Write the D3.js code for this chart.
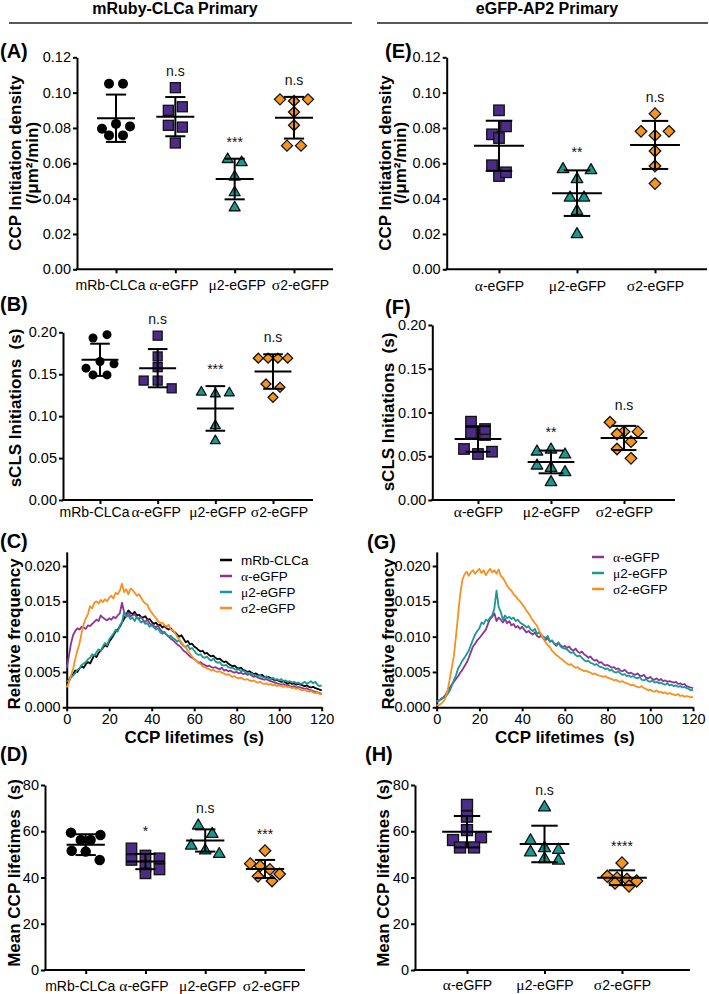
<!DOCTYPE html>
<html>
<head>
<meta charset="utf-8">
<script src="https://cdn.jsdelivr.net/npm/d3@7"></script>
<style>
  body { margin: 0; background: #fff; }
  svg { font-family: "Liberation Sans", Arial, Helvetica, sans-serif; }
</style>
</head>
<body>
<svg id="fig" width="709" height="994"></svg>
<script>
// ---- categories ----
const catsLeft = ["mRb-CLCa", "α-eGFP", "μ2-eGFP", "σ2-eGFP"];
const catsRight = ["α-eGFP", "μ2-eGFP", "σ2-eGFP"];

// ---- tick labels ----
const densityTicks = [0, 0.02, 0.04, 0.06, 0.08, 0.10, 0.12];
const sclsTicks = [0, 0.05, 0.10, 0.15, 0.20];
const meanLifeTicks = [0, 20, 40, 60, 80];
const freqTicks = [0, 0.005, 0.010, 0.015, 0.020];
const timeTicks = [0, 20, 40, 60, 80, 100, 120];

// ---- (A) CCP initiation density, mRuby-CLCa primary ----
const densityA = [
  [0.105, 0.105, 0.0796, 0.0823, 0.0809, 0.0758, 0.0758],
  [0.1028, 0.090, 0.092, 0.0815, 0.0805, 0.0715],
  [0.0626, 0.0608, 0.0527, 0.0438, 0.0353],
  [0.0962, 0.0953, 0.0962, 0.089, 0.0815, 0.070, 0.070]
];
const densityAMean = [0.0855, 0.0864, 0.0511, 0.0858];
const densityASd = [0.0134, 0.0111, 0.0115, 0.0118];
const densityAStats = ["", "n.s", "***", "n.s"];

// ---- (E) CCP initiation density, eGFP-AP2 primary ----
const densityE = [
  [0.090, 0.0764, 0.0743, 0.0809, 0.0589, 0.0528, 0.0549],
  [0.057, 0.0513, 0.0564, 0.0409, 0.0409, 0.0334, 0.0202],
  [0.0881, 0.0781, 0.0758, 0.0781, 0.067, 0.0585, 0.0485]
];
const densityEMean = [0.0699, 0.0431, 0.0704];
const densityESd = [0.0142, 0.0129, 0.0136];
const densityEStats = ["", "**", "n.s"];

// ---- (B) sCLS initiations ----
const sclsB = [
  [0.1932, 0.1972, 0.1572, 0.1652, 0.1624, 0.1492, 0.1492],
  [0.196, 0.1712, 0.1584, 0.1424, 0.1424, 0.1332],
  [0.1292, 0.1272, 0.1284, 0.0892, 0.0712],
  [0.1692, 0.1692, 0.1692, 0.1692, 0.1384, 0.1344, 0.1224]
];
const sclsBMean = [0.1672, 0.1572, 0.1092, 0.1532];
const sclsBSd = [0.0192, 0.0228, 0.0266, 0.0206];
const sclsBStats = ["", "n.s", "***", "n.s"];

// ---- (F) sCLS initiations ----
const sclsF = [
  [0.0895, 0.0769, 0.0743, 0.0811, 0.0583, 0.0526, 0.0552],
  [0.056, 0.0583, 0.0526, 0.040, 0.0373, 0.0324, 0.021],
  [0.0888, 0.0781, 0.0754, 0.0781, 0.0667, 0.0583, 0.0476]
];
const sclsFMean = [0.0697, 0.0435, 0.0709];
const sclsFSd = [0.0146, 0.0130, 0.0138];
const sclsFStats = ["", "**", "n.s"];

// ---- (D) mean CCP lifetimes ----
const lifeD = [
  [59.4, 56.2, 56.2, 58.4, 51.6, 51.2, 47.6],
  [52.6, 49.5, 48.3, 47.6, 44.7, 43.5, 41.8],
  [62.7, 59.1, 54, 51.9, 50.4],
  [51.6, 46, 45, 43.5, 41.5, 40.5, 38.5]
];
const lifeDMean = [54.2, 46.9, 56.0, 43.7];
const lifeDSd = [4.5, 3.3, 4.8, 3.9];
const lifeDStats = ["", "*", "n.s", "***"];

// ---- (H) mean CCP lifetimes ----
const lifeH = [
  [71.4, 66.3, 56.2, 60.5, 57.4, 53, 53],
  [70.6, 56.2, 53, 51.2, 52.2, 48.3, 47.6],
  [46.3, 40.5, 39.8, 39.2, 38.5, 37.6, 36.3]
];
const lifeHMean = [59.8, 54.5, 39.9];
const lifeHSd = [6.8, 7.9, 3.2];
const lifeHStats = ["", "n.s", "****"];

// ---- (C) lifetime distributions, relative frequency x1e-4, one value per second 0..120 ----
const freqC_mRb = [35,
  38,44,47,52,50,55,58,56,61,64,
  62,68,74,71,77,80,84,88,86,93,
  97,102,107,110,114,120,125,131,137,134,
  132,135,130,131,128,127,129,124,125,121,
  118,120,116,117,113,115,112,110,112,108,
  106,103,100,102,97,92,94,89,90,86,
  84,81,79,80,76,77,74,72,73,70,
  68,69,66,64,65,62,60,58,59,56,
  55,56,53,52,50,51,49,47,48,46,
  45,46,43,42,43,41,40,38,39,37,
  36,37,35,34,35,33,34,32,33,32,
  31,30,31,29,28,29,27,26,25,24];
const freqC_alpha = [55,
  72,90,102,108,112,110,114,113,111,116,
  115,118,121,124,122,130,127,125,123,126,
  124,128,126,130,133,148,135,131,134,129,
  130,132,127,125,128,123,121,124,119,117,
  115,113,116,110,107,105,103,100,97,95,
  92,89,87,84,80,78,75,72,70,68,
  66,63,64,61,60,58,59,57,56,57,
  55,54,56,52,53,51,52,50,49,50,
  48,49,47,48,46,47,45,43,44,42,
  41,40,39,40,38,37,36,35,34,33,
  32,33,31,32,30,29,30,28,29,28,
  27,26,27,25,24,23,22,21,20,19];
const freqC_mu2 = [38,
  36,42,45,48,53,55,60,62,64,68,
  70,75,73,78,82,80,86,91,88,96,
  100,104,110,107,116,120,135,128,130,125,
  127,122,128,124,120,122,118,119,114,116,
  113,110,112,106,104,107,103,100,101,98,
  96,93,95,90,87,85,88,82,84,80,
  76,74,75,71,70,72,68,66,69,65,
  63,64,60,59,60,57,56,56,54,53,
  54,51,52,50,49,47,48,46,45,44,
  45,43,42,44,41,40,42,39,40,38,
  40,37,38,36,37,35,36,34,35,33,
  34,36,33,35,37,34,36,32,30,31];
const freqC_sigma2 = [28,
  35,45,54,68,80,90,105,118,126,132,
  143,140,148,150,147,152,149,153,150,155,
  158,154,162,160,165,175,163,167,160,168,
  166,162,158,160,155,150,147,145,138,134,
  130,126,122,119,120,116,114,117,110,109,
  105,100,96,92,88,85,80,76,72,68,
  66,63,61,58,57,55,54,52,53,51,
  50,51,49,48,46,47,45,43,44,42,
  41,42,40,39,40,38,37,38,36,35,
  36,34,33,34,32,33,31,32,30,31,
  30,29,30,28,29,27,28,26,27,25,
  24,25,23,22,23,21,20,21,19,18];

// ---- (G) lifetime distributions, relative frequency x1e-4 ----
const freqG_alpha = [8,
  9,12,14,17,22,27,32,36,40,44,
  49,53,58,63,70,78,86,90,95,98,
  102,106,110,118,125,128,133,122,127,124,
  120,125,119,122,116,118,113,115,111,114,
  110,106,108,105,103,106,101,99,102,97,
  95,98,93,94,90,87,91,88,85,87,
  84,86,82,80,83,79,77,79,75,73,
  70,72,68,66,67,63,64,61,59,60,
  58,56,57,54,55,52,51,53,50,48,
  49,47,46,48,45,44,46,42,41,43,
  40,39,41,38,40,37,38,36,37,36,
  35,36,33,34,32,33,30,29,28,27];
const freqG_mu2 = [8,
  10,11,13,15,18,23,30,38,45,55,
  60,66,70,75,80,88,96,103,108,112,
  120,118,124,122,127,130,140,165,142,135,
  124,130,126,128,125,127,122,124,120,118,
  116,113,115,110,108,111,104,106,102,100,
  98,101,93,95,90,89,92,86,84,83,
  82,79,77,78,74,72,73,70,67,65,
  66,63,62,60,61,58,57,56,54,55,
  52,53,50,49,51,48,46,47,44,45,
  43,44,42,41,43,39,38,40,37,36,
  38,35,36,34,35,33,32,34,31,32,
  30,31,29,30,28,29,27,26,24,25];
const freqG_sigma2 = [3,
  3,5,8,12,22,38,55,72,100,130,
  160,180,188,192,186,191,194,189,193,196,
  190,194,187,192,196,191,194,189,195,186,
  183,178,172,168,165,160,157,153,150,146,
  142,137,133,128,123,119,115,108,103,97,
  92,88,85,80,77,74,72,69,67,64,
  62,60,61,58,56,57,54,53,51,52,
  50,49,47,48,46,45,44,43,44,42,
  41,40,38,39,37,36,37,35,34,33,
  31,32,30,29,28,30,27,26,24,25,
  23,22,24,21,22,20,21,19,20,19,
  18,17,19,16,17,15,16,15,14,15];

// ---- styles ----
const colors = { "mRb-CLCa": "#000000", "α-eGFP": "#4b2d87", "μ2-eGFP": "#17998f", "σ2-eGFP": "#f7941d" };
const lineColors = { "mRb-CLCa": "#000000", "α-eGFP": "#8b3597", "μ2-eGFP": "#1a9892", "σ2-eGFP": "#f7901e" };
const shapes = { "mRb-CLCa": "circle", "α-eGFP": "square", "μ2-eGFP": "triangle", "σ2-eGFP": "diamond" };
const SERIF = "'Liberation Serif', 'DejaVu Serif', serif";

const svg = d3.select("#fig");

function styleAxis(sel) {
  sel.attr("font-family", null).attr("font-size", null);
  sel.selectAll("path, line").attr("stroke", "#000").attr("stroke-width", 2);
  sel.selectAll("text").attr("fill", "#000").style("font-size", "14.5px");
}

// greek letters drawn in a serif face, like the Symbol glyphs of the original
function greekify(sel, size) {
  sel.each(function () {
    const t = d3.select(this), s = t.text();
    if (/^[αμσ]/.test(s)) {
      t.text(null);
      const gl = t.append("tspan").style("font-family", SERIF).text(s[0]);
      if (size) gl.style("font-size", size);
      t.append("tspan").text(s.slice(1));
    }
  });
}

// GraphPad-like horizontal spreading: points with close y share a row
function swarm(vals, y, d) {
  const idx = d3.range(vals.length).sort((a, b) => vals[b] - vals[a] || a - b);
  const off = new Array(vals.length).fill(0);
  let i = 0;
  while (i < idx.length) {
    const yStart = y(vals[idx[i]]);
    let j = i + 1;
    while (j < idx.length && j - i < 4 && Math.abs(y(vals[idx[j]]) - yStart) < 10.5) j++;
    const bin = idx.slice(i, j).sort((a, b) => a - b);
    const n = bin.length;
    const sp = n > 3 ? d * 2.8 / n : d;
    bin.forEach((k, m) => { off[k] = (m - (n - 1) / 2) * sp; });
    i = j;
  }
  return off;
}

function drawMarker(g, shape, cx, cy, s, fill) {
  if (shape === "circle") {
    g.append("circle").attr("cx", cx).attr("cy", cy).attr("r", s / 2).attr("fill", fill);
  } else if (shape === "square") {
    g.append("rect").attr("x", cx - s / 2).attr("y", cy - s / 2).attr("width", s).attr("height", s)
      .attr("fill", fill).attr("stroke", "#111").attr("stroke-width", 1.3);
  } else if (shape === "triangle") {
    const w = s * 1.1, h = s * 0.95;
    g.append("path").attr("d", `M${cx},${cy - h * 0.6}L${cx + w / 2},${cy + h * 0.4}L${cx - w / 2},${cy + h * 0.4}Z`)
      .attr("fill", fill).attr("stroke", "#111").attr("stroke-width", 1.3).attr("stroke-linejoin", "round");
  } else {
    const r = s * 0.55;
    g.append("path").attr("d", `M${cx},${cy - r}L${cx + r},${cy}L${cx},${cy + r}L${cx - r},${cy}Z`)
      .attr("fill", fill).attr("stroke", "#111").attr("stroke-width", 1.3);
  }
}

function scatterPanel(p) {
  const g = svg.append("g");
  const y = d3.scaleLinear().domain([0, p.yMax]).range([p.y0, p.y1]);
  const x = d3.scalePoint().domain(p.cats).range([p.xFirst, p.xLast]);
  const step = (p.xLast - p.xFirst) / (p.cats.length - 1);

  g.append("g").attr("transform", `translate(${p.ax},0)`)
    .call(d3.axisLeft(y).tickValues(p.ticks).tickFormat(d3.format(p.fmt)).tickSize(4).tickSizeOuter(0).tickPadding(2))
    .call(styleAxis);
  const xa = g.append("g").attr("transform", `translate(0,${p.y0})`)
    .call(d3.axisBottom(x).tickSize(4).tickSizeOuter(0).tickPadding(p.labelPad))
    .call(styleAxis);
  xa.select(".domain").remove();
  // labels of crowded panels are nudged apart a little, as in the original
  const n = p.cats.length;
  xa.selectAll(".tick text").style("font-size", "14px")
    .attr("dx", (d, i) => n > 3 ? (i - (n - 1) / 2) * 4 : 0)
    .call(greekify, "15.5px");
  g.append("line").attr("x1", p.ax - 1).attr("x2", p.axEnd).attr("y1", p.y0).attr("y2", p.y0)
    .attr("stroke", "#000").attr("stroke-width", 2);

  p.cats.forEach((c, k) => {
    const vals = p.values[k];
    const cx = x(c);
    const off = swarm(vals, y, p.spread || 14);
    vals.forEach((v, i) => drawMarker(g, shapes[c], cx + off[i], y(v), p.size, colors[c]));
    const m = p.means[k], s = p.sds[k];
    const hw = step * 0.32, cw = step * 0.17;
    const err = g.append("g").attr("stroke", "#000").attr("stroke-width", 2);
    err.append("line").attr("x1", cx - hw).attr("x2", cx + hw).attr("y1", y(m)).attr("y2", y(m));
    err.append("line").attr("x1", cx).attr("x2", cx).attr("y1", y(m - s)).attr("y2", y(m + s));
    [m - s, m + s].forEach(e => err.append("line").attr("x1", cx - cw).attr("x2", cx + cw).attr("y1", y(e)).attr("y2", y(e)));
    if (p.stats[k]) {
      const top = Math.min(y(d3.max(vals)), y(m + s));
      g.append("text").attr("x", cx).attr("y", top - 12).attr("text-anchor", "middle")
        .style("font-size", "14px").attr("fill", "#111").text(p.stats[k]);
    }
  });
}

function linePanel(p) {
  const g = svg.append("g");
  const x = d3.scaleLinear().domain([0, 120]).range([p.ax, p.xEnd]);
  const y = d3.scaleLinear().domain([0, 0.022]).range([p.y0, p.y0 - 0.022 * p.pxPerUnit]);
  g.append("g").attr("transform", `translate(${p.ax},0)`)
    .call(d3.axisLeft(y).tickValues(freqTicks).tickFormat(d3.format(".3f")).tickSize(4).tickSizeOuter(0).tickPadding(2))
    .call(styleAxis);
  g.append("g").attr("transform", `translate(0,${p.y0})`)
    .call(d3.axisBottom(x).tickValues(timeTicks).tickFormat(d3.format("d")).tickSize(4).tickSizeOuter(0).tickPadding(2))
    .call(styleAxis);
  const line = d3.line().x((d, i) => x(i)).y(d => y(d / 1e4));
  p.series.forEach(s => {
    g.append("path").datum(s.values).attr("d", line).attr("fill", "none")
      .attr("stroke", lineColors[s.name]).attr("stroke-width", 1.8).attr("stroke-linejoin", "round");
  });
  p.series.forEach((s, i) => {
    const ly = p.legY + i * p.legStep;
    g.append("line").attr("x1", p.legX).attr("x2", p.legX + 12).attr("y1", ly).attr("y2", ly)
      .attr("stroke", lineColors[s.name]).attr("stroke-width", 2.5);
    g.append("text").attr("x", p.legX + 21).attr("y", ly + 4.5).style("font-size", "13.5px").text(s.name).call(greekify);
  });
  g.append("text").attr("x", (p.ax + p.xEnd) / 2).attr("y", p.y0 + 36).attr("text-anchor", "middle")
    .style("font-size", "17px").style("font-weight", "bold").text("CCP lifetimes \u00a0(s)");
}

function yTitle(lines, xs, cy) {
  lines.forEach((t, i) => {
    svg.append("text").attr("transform", `translate(${xs[i]},${cy}) rotate(-90)`).attr("text-anchor", "middle")
      .style("font-size", "17px").style("font-weight", "bold").text(t);
  });
}

function bold(t, x, y, size, anchor) {
  svg.append("text").attr("x", x).attr("y", y).attr("text-anchor", anchor || "start")
    .style("font-size", size + "px").style("font-weight", "bold").text(t);
}

// ---- headers ----
bold("mRuby-CLCa Primary", 175, 14, 16, "middle");
bold("eGFP-AP2 Primary", 547, 14, 16, "middle");
svg.append("line").attr("x1", 9).attr("x2", 352).attr("y1", 23).attr("y2", 23).attr("stroke", "#222").attr("stroke-width", 1.5);
svg.append("line").attr("x1", 377).attr("x2", 708).attr("y1", 23).attr("y2", 23).attr("stroke", "#222").attr("stroke-width", 1.5);

// ---- panel letters ----
[["(A)", 0, 58], ["(E)", 385, 58], ["(B)", 0, 311], ["(F)", 385, 314],
 ["(C)", 0, 548], ["(G)", 367, 549], ["(D)", 0, 761], ["(H)", 365, 761]]
  .forEach(d => bold(d[0], d[1], d[2], 20));

// ---- scatter panels ----
scatterPanel({ cats: catsLeft, values: densityA, means: densityAMean, sds: densityASd, stats: densityAStats,
  ax: 77, axEnd: 333, xFirst: 116, xLast: 294, y0: 269.3, y1: 57.3, yMax: 0.12, ticks: densityTicks, fmt: ".2f",
  labelPad: 7, size: 10 });
scatterPanel({ cats: catsRight, values: densityE, means: densityEMean, sds: densityESd, stats: densityEStats,
  ax: 446.7, axEnd: 707, xFirst: 499, xLast: 655, y0: 269.3, y1: 57.3, yMax: 0.12, ticks: densityTicks, fmt: ".2f",
  labelPad: 7.5, size: 10.5 });
scatterPanel({ cats: catsLeft, values: sclsB, means: sclsBMean, sds: sclsBSd, stats: sclsBStats,
  ax: 63, axEnd: 313, xFirst: 100, xLast: 273, y0: 500, y1: 332.3, yMax: 0.20, ticks: sclsTicks, fmt: ".2f",
  labelPad: 2.6, size: 9 });
scatterPanel({ cats: catsRight, values: sclsF, means: sclsFMean, sds: sclsFSd, stats: sclsFStats,
  ax: 432.3, axEnd: 675, xFirst: 478, xLast: 624, y0: 500, y1: 325, yMax: 0.20, ticks: sclsTicks, fmt: ".2f",
  labelPad: 2.6, size: 10.5 });
scatterPanel({ cats: catsLeft, values: lifeD, means: lifeDMean, sds: lifeDSd, stats: lifeDStats,
  ax: 45, axEnd: 305, xFirst: 85.7, xLast: 265, y0: 970, y1: 785, yMax: 80, ticks: meanLifeTicks, fmt: "d",
  labelPad: 7.5, size: 10.5 });
scatterPanel({ cats: catsRight, values: lifeH, means: lifeHMean, sds: lifeHSd, stats: lifeHStats,
  ax: 415, axEnd: 690, xFirst: 467, xLast: 622, y0: 970, y1: 785, yMax: 80, ticks: meanLifeTicks, fmt: "d",
  labelPad: 6, size: 11 });

// ---- distribution panels ----
linePanel({ ax: 66.7, xEnd: 321.7, y0: 707.3, pxPerUnit: 7065, legX: 220, legY: 560, legStep: 16,
  series: [
    { name: "mRb-CLCa", values: freqC_mRb },
    { name: "α-eGFP", values: freqC_alpha },
    { name: "μ2-eGFP", values: freqC_mu2 },
    { name: "σ2-eGFP", values: freqC_sigma2 }
  ] });
linePanel({ ax: 436.7, xEnd: 693, y0: 707.3, pxPerUnit: 7065, legX: 592, legY: 557, legStep: 16,
  series: [
    { name: "α-eGFP", values: freqG_alpha },
    { name: "μ2-eGFP", values: freqG_mu2 },
    { name: "σ2-eGFP", values: freqG_sigma2 }
  ] });

// ---- y axis titles ----
yTitle(["CCP Initiation density", "(/μm²/min)"], [21, 38], 163);
yTitle(["CCP Initiation density", "(/μm²/min)"], [391, 406], 163);
yTitle(["sCLS Initiations \u00a0(s)"], [21], 408);
yTitle(["sCLS Initiations \u00a0(s)"], [394], 412);
yTitle(["Relative frequency"], [20], 634);
yTitle(["Relative frequency"], [394], 634);
yTitle(["Mean CCP lifetimes \u00a0(s)"], [20], 873);
yTitle(["Mean CCP lifetimes \u00a0(s)"], [389], 873);
</script>
</body>
</html>
